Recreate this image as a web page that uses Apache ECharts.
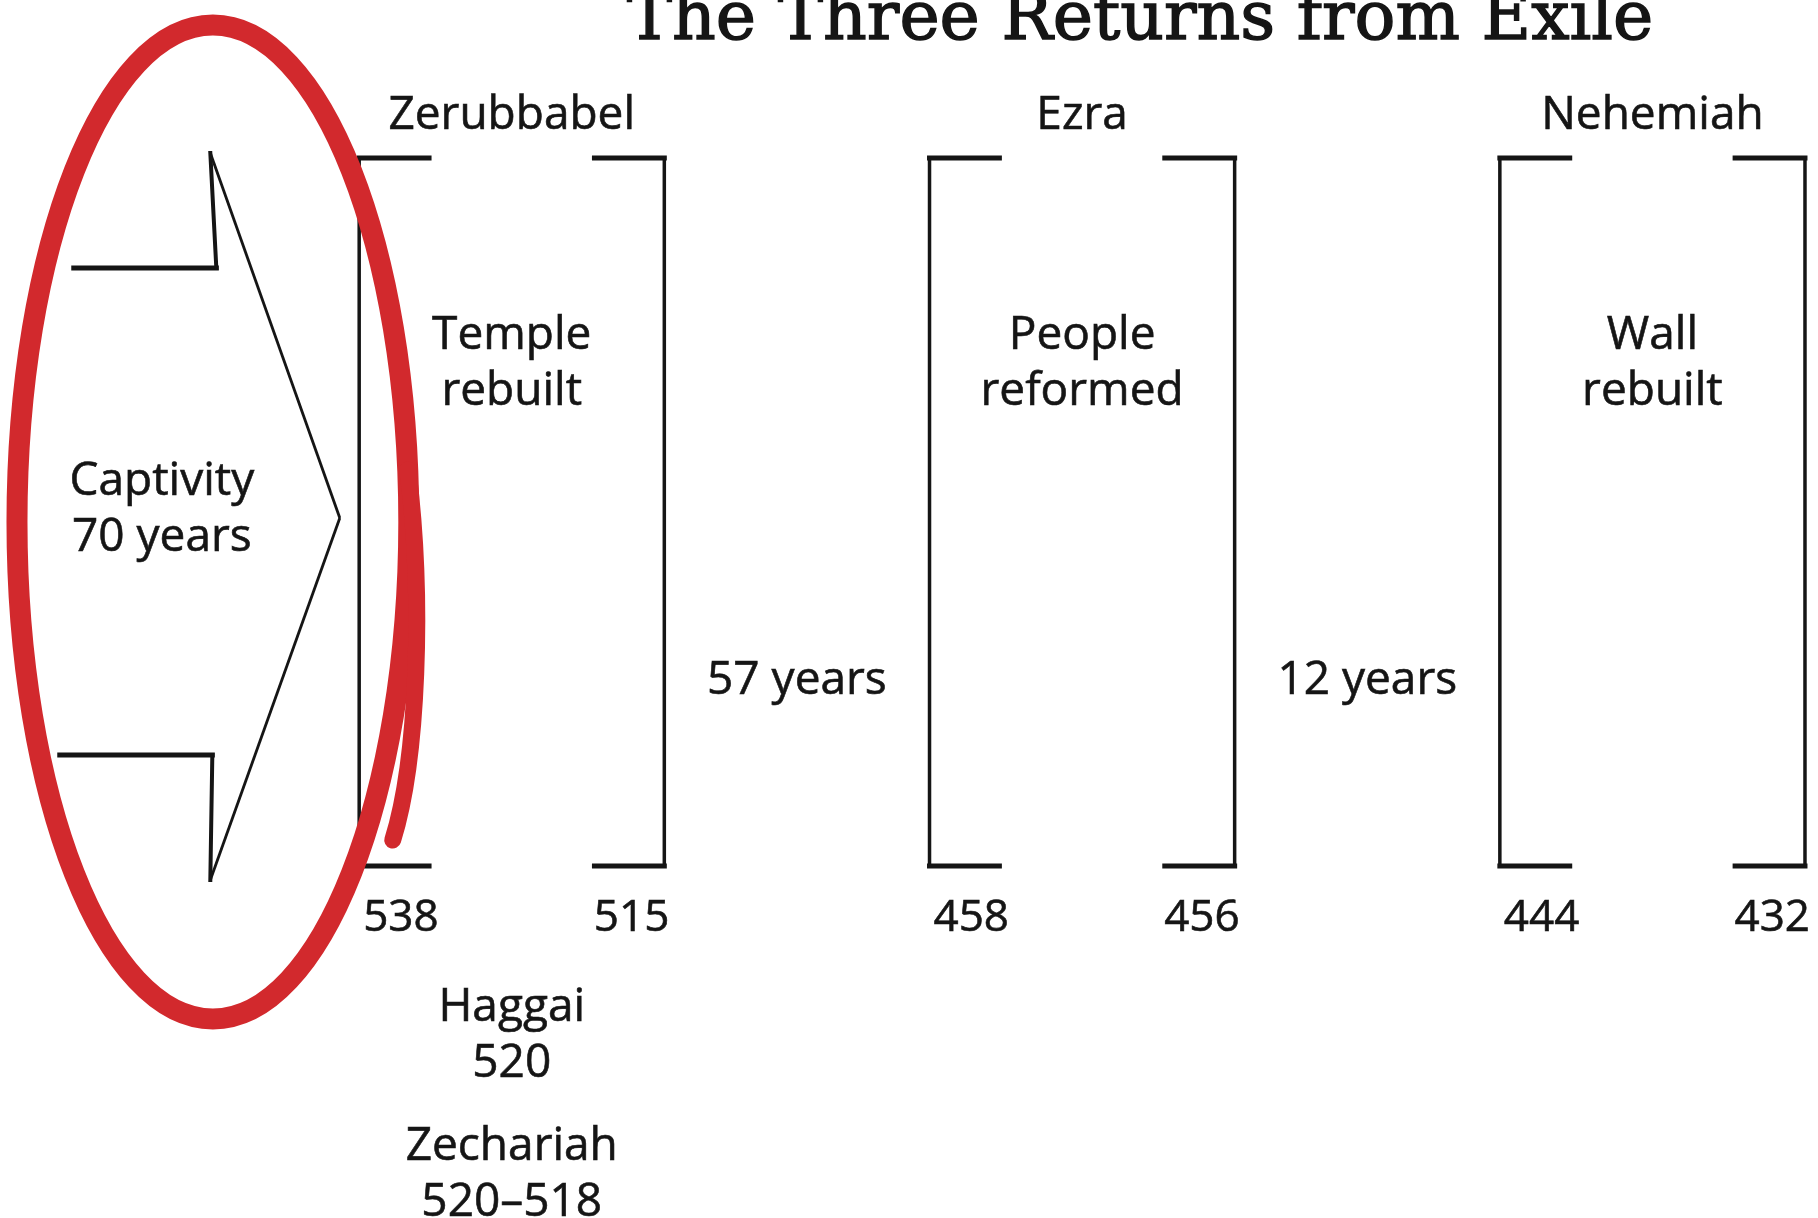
<!DOCTYPE html>
<html>
<head>
<meta charset="utf-8">
<title>The Three Returns from Exile</title>
<script src="https://cdn.jsdelivr.net/npm/echarts@6/dist/echarts.min.js"></script>
<style>
  html, body { margin: 0; padding: 0; background: #fff; }
  #chart { width: 1818px; height: 1218px; }
</style>
</head>
<body>
<div id="chart"></div>
<script>
// slots along the timeline, left to right
const slots = ['Captivity', 'Zerubbabel', 'gap-1', 'Ezra', 'gap-2', 'Nehemiah'];

const leaders = ['Zerubbabel', 'Ezra', 'Nehemiah'];
const tasks = ['Temple\nrebuilt', 'People\nreformed', 'Wall\nrebuilt'];
const startYears = [538, 458, 444];
const endYears = [515, 456, 432];
const gapYears = [57, 12];
const captivityYears = 70;
const prophets = ['Haggai', 'Zechariah'];
const prophetDates = ['520', '520–518'];

const INK = '#151515';
const RED = '#d2292d';
const FONT = '"Open Sans", sans-serif';

// vertical layout rows (y axis runs down the page)
const ROW = {
  leader: 116, top: 158, task: 364, gap: 681, bottom: 866, year: 918,
  prophet: [1036, 1175],
  headTop: 153, shaftTop: 268, tip: 518, shaftBottom: 755, headBottom: 880,
  loopMid: 522, loopTop: 25
};

const chart = echarts.init(document.getElementById('chart'));

function txt(x, y, text, extra) {
  return {
    type: 'text',
    style: Object.assign({
      x: x, y: y, text: text, fill: INK, fontFamily: FONT, fontSize: 46,
      align: 'center', verticalAlign: 'middle', lineHeight: 56,
      stroke: INK, lineWidth: 0.6
    }, extra || {})
  };
}
function seg(x1, y1, x2, y2, w) {
  return { type: 'line', shape: { x1: x1, y1: y1, x2: x2, y2: y2 }, style: { stroke: INK, lineWidth: w, lineCap: 'square' } };
}

function renderReturn(params, api) {
  const slot = api.value(0);
  const band = api.size([1, 0])[0];
  const cx = api.coord([slot, 0])[0];
  const y = r => api.coord([slot, r])[1];
  const left = cx - band * 0.535, right = cx + band * 0.535, tick = band * 0.245;
  const top = y(ROW.top), bottom = y(ROW.bottom);
  const i = params.dataIndex;
  return {
    type: 'group',
    children: [
      seg(left, top, left, bottom, 3.5),
      seg(right, top, right, bottom, 3.5),
      seg(left, top, left + tick, top, 5),
      seg(right - tick, top, right, top, 5),
      seg(left, bottom, left + tick, bottom, 5),
      seg(right - tick, bottom, right, bottom, 5),
      txt(cx, y(ROW.leader), leaders[i]),
      txt(cx, y(ROW.task), tasks[i]),
      txt(left + 4, y(ROW.year), String(api.value(1)), { align: 'left', fontSize: 44 }),
      txt(right + 5, y(ROW.year), String(api.value(2)), { align: 'right', fontSize: 44 })
    ]
  };
}

function renderGap(params, api) {
  const p = api.coord([api.value(0), ROW.gap]);
  return txt(p[0], p[1], api.value(1) + ' years');
}

function renderProphet(params, api) {
  const p = api.coord([api.value(0), ROW.prophet[params.dataIndex]]);
  return txt(p[0], p[1], prophets[params.dataIndex] + '\n' + prophetDates[params.dataIndex]);
}

function renderCaptivity(params, api) {
  const slot = api.value(0);
  const band = api.size([1, 0])[0];
  const cx = api.coord([slot, 0])[0];
  const y = r => api.coord([slot, r])[1];
  const shaftL = cx - band * 0.585, notch = cx - band * 0.05, tip = cx + band * 0.397;
  return {
    type: 'group',
    children: [
      seg(shaftL + 14, y(ROW.shaftTop), notch + 4, y(ROW.shaftTop), 5),
      seg(notch + 4, y(ROW.shaftTop), notch - 2, y(ROW.headTop), 4),
      { type: 'line', shape: { x1: notch - 2, y1: y(ROW.headTop), x2: tip, y2: y(ROW.tip) }, style: { stroke: INK, lineWidth: 2.8 } },
      { type: 'line', shape: { x1: tip, y1: y(ROW.tip), x2: notch - 2, y2: y(ROW.headBottom) }, style: { stroke: INK, lineWidth: 2.8 } },
      seg(notch - 2, y(ROW.headBottom), notch, y(ROW.shaftBottom), 4),
      seg(notch, y(ROW.shaftBottom), shaftL, y(ROW.shaftBottom), 5),
      txt(cx - band * 0.227, (y(ROW.shaftTop) + y(ROW.shaftBottom)) / 2 - 2, 'Captivity\n' + api.value(1) + ' years')
    ]
  };
}

// hand-drawn red loop around the captivity arrow
function renderLoop(params, api) {
  const slot = api.value(0);
  const band = api.size([1, 0])[0];
  const ex = api.coord([slot, 0])[0] - band * 0.048;
  const ey = api.coord([slot, ROW.loopMid])[1];
  const rx = band * 0.687;
  const ry = ey - api.coord([slot, ROW.loopTop])[1];
  return {
    type: 'group',
    children: [
      { type: 'ellipse', shape: { cx: ex, cy: ey, rx: rx, ry: ry }, style: { fill: 'none', stroke: RED, lineWidth: 21 } },
      {
        type: 'bezierCurve',
        shape: {
          x1: ex + rx * 0.995, y1: ey - ry * 0.105,
          cpx1: ex + rx * 1.077, cpy1: ey + ry * 0.157,
          cpx2: ex + rx * 1.046, cpy2: ey + ry * 0.479,
          x2: ex + rx * 0.918, y2: ey + ry * 0.64
        },
        style: { fill: 'none', stroke: RED, lineWidth: 17, lineCap: 'round' }
      }
    ]
  };
}

const option = {
  animation: false,
  backgroundColor: '#fff',
  title: {
    text: 'The Three Returns from Exile',
    left: 1140,
    top: -13,
    textAlign: 'center',
    padding: 0,
    textStyle: {
      fontFamily: '"DejaVu Serif", serif', fontSize: 68, lineHeight: 68, fontWeight: 'normal', color: INK,
      textBorderColor: INK, textBorderWidth: 1.4
    }
  },
  grid: { left: 84, right: 23, top: 0, bottom: 0 },
  xAxis: { type: 'category', data: slots, show: false },
  yAxis: { type: 'value', min: 0, max: 1218, inverse: true, show: false },
  series: [
    {
      type: 'custom',
      renderItem: renderCaptivity,
      data: [[slots.indexOf('Captivity'), captivityYears]]
    },
    {
      type: 'custom',
      renderItem: renderReturn,
      data: leaders.map((name, i) => [slots.indexOf(name), startYears[i], endYears[i]])
    },
    {
      type: 'custom',
      renderItem: renderGap,
      data: gapYears.map((g, k) => [slots.indexOf('gap-' + (k + 1)), g])
    },
    {
      type: 'custom',
      renderItem: renderProphet,
      data: prophets.map(() => [slots.indexOf('Zerubbabel')])
    },
    {
      type: 'custom',
      z: 10,
      renderItem: renderLoop,
      data: [[slots.indexOf('Captivity')]]
    }
  ]
};

chart.setOption(option);
</script>
</body>
</html>
